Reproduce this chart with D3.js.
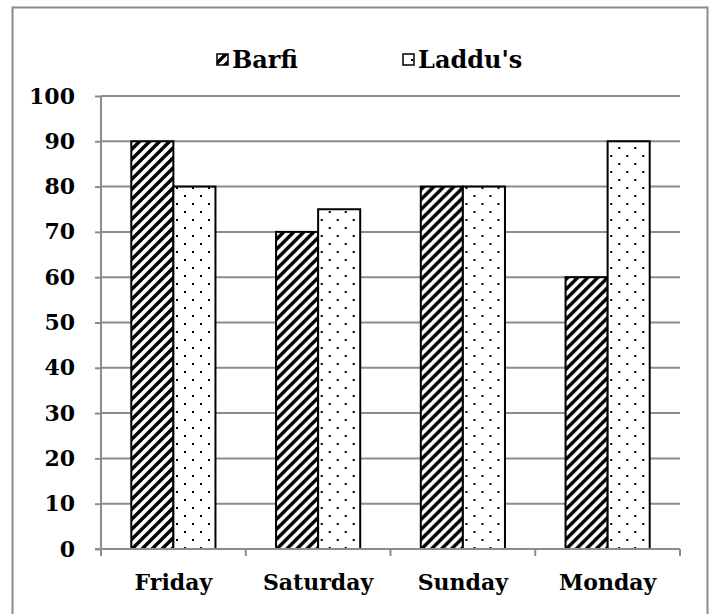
<!DOCTYPE html>
<html>
<head>
<meta charset="utf-8">
<script src="https://cdn.jsdelivr.net/npm/d3@7"></script>
<style>
  body { margin: 0; background: #fff; }
  svg text { font-family: "DejaVu Serif", serif; font-weight: bold; fill: #000; }
</style>
</head>
<body>
<svg id="chart" width="711" height="614"></svg>
<script>
// chart data
var days = ["Friday", "Saturday", "Sunday", "Monday"];
var seriesNames = ["Barfi", "Laddu's"];
var barfi = [90, 70, 80, 60];
var laddus = [80, 75, 80, 90];
var yTicks = [0, 10, 20, 30, 40, 50, 60, 70, 80, 90, 100];

var svg = d3.select("#chart");
var plotLeft = 101, plotRight = 680, plotTop = 96, plotBottom = 549;

// patterns
var defs = svg.append("defs");
var hatch = defs.append("pattern")
  .attr("id", "hatch").attr("patternUnits", "userSpaceOnUse")
  .attr("width", 10).attr("height", 10);
hatch.append("rect").attr("width", 10).attr("height", 10).attr("fill", "#fff");
hatch.append("path")
  .attr("d", "M-3,3 L3,-3 M0,10 L10,0 M7,13 L13,7")
  .attr("stroke", "#000").attr("stroke-width", 3.4);

var dots = defs.append("pattern")
  .attr("id", "dots").attr("patternUnits", "userSpaceOnUse")
  .attr("width", 16).attr("height", 16);
dots.append("rect").attr("width", 16).attr("height", 16).attr("fill", "#fff");
dots.append("rect").attr("x", 3).attr("y", 3).attr("width", 2).attr("height", 2).attr("fill", "#000");
dots.append("rect").attr("x", 11).attr("y", 11).attr("width", 2).attr("height", 2).attr("fill", "#000");

// outer frame
svg.append("rect")
  .attr("x", 12.5).attr("y", 7.5).attr("width", 695).attr("height", 620)
  .attr("fill", "none").attr("stroke", "#8c8c8c").attr("stroke-width", 2);

var x0 = d3.scaleBand().domain(days).range([plotLeft, plotRight]);
var x1 = d3.scaleBand().domain(seriesNames).range([0, x0.bandwidth()])
  .paddingInner(0).paddingOuter(0.72);
var y = d3.scaleLinear().domain([0, 100]).range([plotBottom, plotTop]);

// gridlines
svg.append("g").selectAll("line").data(yTicks.slice(1)).enter().append("line")
  .attr("x1", plotLeft).attr("x2", plotRight)
  .attr("y1", function(d){ return y(d); }).attr("y2", function(d){ return y(d); })
  .attr("stroke", "#8c8c8c").attr("stroke-width", 2);

// y axis
var yAxis = svg.append("g").attr("transform", "translate(" + plotLeft + ",0)")
  .call(d3.axisLeft(y).tickValues(yTicks).tickSize(6).tickPadding(20));
yAxis.select(".domain").attr("stroke", "#8c8c8c").attr("stroke-width", 2)
  .attr("d", "M0," + plotTop + "V" + plotBottom);
yAxis.selectAll(".tick line").attr("stroke", "#8c8c8c").attr("stroke-width", 2);
yAxis.selectAll(".tick text").attr("font-size", 22)
  .style("font-family", "DejaVu Serif").style("font-weight", "bold");

// bars
var data = days.map(function(d, i){ return {day: d, vals: [barfi[i], laddus[i]]}; });
var fills = ["url(#hatch)", "url(#dots)"];
var groups = svg.append("g").selectAll("g").data(data).enter().append("g")
  .attr("transform", function(d){ return "translate(" + x0(d.day) + ",0)"; });
groups.selectAll("rect").data(function(d){
    return d.vals.map(function(v, j){ return {key: seriesNames[j], v: v, j: j}; });
  }).enter().append("rect")
  .attr("x", function(d){ return x1(d.key); })
  .attr("y", function(d){ return y(d.v); })
  .attr("width", x1.bandwidth())
  .attr("height", function(d){ return plotBottom - y(d.v); })
  .attr("fill", function(d){ return fills[d.j]; })
  .attr("stroke", "#000").attr("stroke-width", 2);

// x axis
var xAxis = svg.append("g").attr("transform", "translate(0," + plotBottom + ")")
  .call(d3.axisBottom(x0).tickSize(0).tickPadding(25));
xAxis.select(".domain").attr("stroke", "#8c8c8c").attr("stroke-width", 2)
  .attr("d", "M" + (plotLeft - 6) + ",0H" + plotRight);
xAxis.selectAll(".tick text").attr("font-size", 22)
  .style("font-family", "DejaVu Serif").style("font-weight", "bold");
var bounds = days.map(function(d){ return x0(d); }).concat([plotRight]);
xAxis.selectAll(".bound").data(bounds).enter().append("line")
  .attr("x1", function(d){ return d; }).attr("x2", function(d){ return d; })
  .attr("y1", 0).attr("y2", 7)
  .attr("stroke", "#8c8c8c").attr("stroke-width", 2);

// legend
var legend = svg.append("g");
var legX = [217, 403];
seriesNames.forEach(function(name, i){
  legend.append("rect")
    .attr("x", legX[i]).attr("y", 54).attr("width", 11).attr("height", 11)
    .attr("fill", fills[i]).attr("stroke", "#000").attr("stroke-width", 1.5);
  legend.append("text")
    .attr("x", legX[i] + 15).attr("y", 68)
    .attr("font-size", 24).text(name);
});
</script>
</body>
</html>
